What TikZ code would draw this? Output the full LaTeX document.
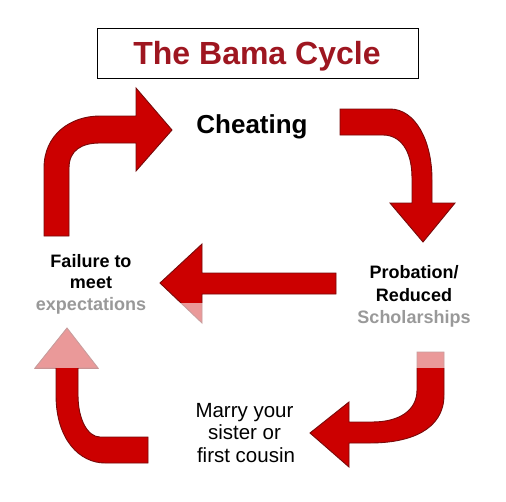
\documentclass[tikz,border=0pt]{standalone}
\usepackage{fontspec}
\setmainfont{Liberation Sans}
\definecolor{arrowred}{RGB}{204,0,0}
\definecolor{arrowedge}{RGB}{120,10,10}
\definecolor{titlered}{RGB}{158,22,32}
\tikzset{
  bigarrow/.style={fill=arrowred, draw=arrowedge, line width=0.9pt, line join=miter},
  boldlbl/.style={anchor=base, inner sep=0pt, font=\bfseries\fontsize{18}{22}\selectfont},
  plainlbl/.style={anchor=base, inner sep=0pt, font=\fontsize{20.5}{24}\selectfont},
  wash/.style={fill=white, opacity=0.6, draw=none}
}
\begin{document}
\begin{tikzpicture}[x=1pt,y=-1pt]
\useasboundingbox (0,0) rectangle (506,501);
\fill[white] (0,0) rectangle (506,501);
% title
\node[draw=black, line width=0.8pt, minimum width=321pt, minimum height=50pt, inner sep=0pt] (titlebox) at (257.5,53) {};
\node[anchor=base, inner sep=0pt, text=titlered, font=\bfseries\fontsize{32}{36}\selectfont] (title) at (257,64) {The Bama Cycle};
% labels
\node[anchor=base, inner sep=0pt, font=\bfseries\fontsize{26}{30}\selectfont] (cheat) at (252,133) {Cheating};
\node[boldlbl] (fail1) at (91,267) {Failure to};
\node[boldlbl] (fail2) at (91,288) {meet};
\node[boldlbl] (fail3) at (91,310) {expectations};
\node[boldlbl] (prob1) at (414,278) {Probation/};
\node[boldlbl] (prob2) at (414,301) {Reduced};
\node[boldlbl] (prob3) at (414,323) {Scholarships};
\node[plainlbl] (marry1) at (244.5,417) {Marry your};
\node[plainlbl] (marry2) at (244.5,439) {sister or};
\node[plainlbl] (marry3) at (246,462) {first cousin};
% arrow 1: up then right
\path[bigarrow] (44,236) -- (44,168) .. controls (44,135) and (70,116) .. (100,116)
  -- (136,116) -- (136,88) -- (172,130) -- (136,171) -- (136,143) -- (100,143)
  .. controls (82,143) and (69,150) .. (69,168) -- (69,236) -- cycle;
% arrow 2: right then down
\path[bigarrow] (340,109) -- (390,109) .. controls (415,109) and (432,140) .. (432,180)
  -- (432,203) -- (455,203) -- (423,242) -- (390,203) -- (412,203) -- (412,178)
  .. controls (412,150) and (400,135) .. (383,135) -- (340,135) -- cycle;
% arrow 3: left
\path[bigarrow] (336,273) -- (202,273) -- (202,244) -- (160,283) -- (202,323)
  -- (202,294) -- (336,294) -- cycle;
% arrow 4: down then left
\path[bigarrow] (417,352) -- (444,352) -- (444,395) .. controls (444,430) and (410,443) .. (370,443)
  -- (349,443) -- (349,467) -- (310,433) -- (349,402) -- (349,422) -- (372,422)
  .. controls (400,422) and (417,410) .. (417,390) -- cycle;
% arrow 5: left then up
\path[bigarrow] (148,437) -- (100,437) .. controls (88,437) and (78,420) .. (78,395)
  -- (78,368) -- (98,368) -- (67,328) -- (35,368) -- (56,368) -- (56,395)
  .. controls (56,440) and (80,463) .. (105,463) -- (148,463) -- cycle;
% washed-out band
\path[wash] (0,297) rectangle (155,368);
\path[wash] (155,303) rectangle (506,368);
\end{tikzpicture}
\end{document}
